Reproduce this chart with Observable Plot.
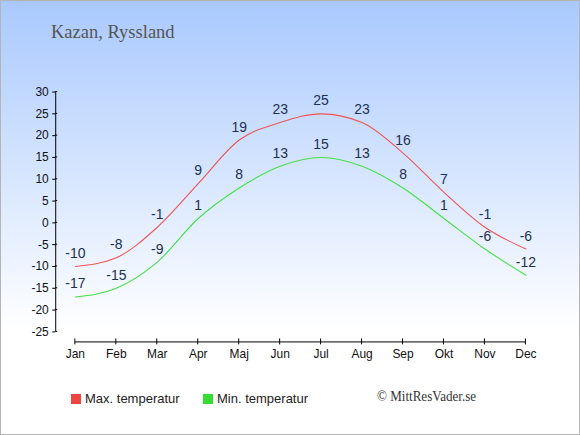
<!DOCTYPE html>
<html>
<head>
<meta charset="utf-8">
<script src="https://cdn.jsdelivr.net/npm/d3@7"></script>
<script src="https://cdn.jsdelivr.net/npm/@observablehq/plot@0.6"></script>
<style>
  html, body { margin: 0; padding: 0; background: #fff; }
  #wrap {
    position: relative; width: 580px; height: 435px; box-sizing: border-box;
    border: 1px solid #b4b4b4; overflow: hidden;
    background: linear-gradient(to bottom, #a9c9fe 0px, #ffffff 330px, #ffffff 435px);
    font-family: "Liberation Sans", Arial, sans-serif;
  }
  #title {
    position: absolute; left: 50px; top: 21px; font-family: "Liberation Serif", serif;
    font-size: 18.5px; color: #555;
  }
  #chart { position: absolute; left: -1px; top: -1px; }
  #legend { position: absolute; left: 0; top: 388px; width: 580px; height: 20px; font-size: 13px; color: #222; }
  .item { position: absolute; top: 0; white-space: nowrap; }
  .sw { position: absolute; top: 5px; width: 10px; height: 10px; }
  #copy { position: absolute; left: 376px; top: 387px; font-family: "Liberation Serif", serif; font-size: 14.5px; color: #333;
    transform: scaleX(0.9); transform-origin: left center; white-space: nowrap; }
</style>
</head>
<body>
<div id="wrap">
  <div id="title">Kazan, Ryssland</div>
  <div id="chart"></div>
  <div id="legend"></div>
  <div id="copy">© MittResVader.se</div>
</div>
<script>
const months = ["Jan","Feb","Mar","Apr","Maj","Jun","Jul","Aug","Sep","Okt","Nov","Dec"];
const maxTemp = [-10, -8, -1, 9, 19, 23, 25, 23, 16, 7, -1, -6];
const minTemp = [-17, -15, -9, 1, 8, 13, 15, 13, 8, 1, -6, -12];
const yTicks = [-25, -20, -15, -10, -5, 0, 5, 10, 15, 20, 25, 30];
const seriesNames = ["Max. temperatur", "Min. temperatur"];
const seriesColors = ["#f05454", "#44e044"];
const swatchColors = ["#ee4444", "#33dd33"];

const xDomain = [-0.48, months.length - 1];
const yDomain = [-27.3, 30];

const maxData = months.map((m, i) => ({i, v: maxTemp[i]}));
const minData = months.map((m, i) => ({i, v: minTemp[i]}));

const chart = Plot.plot({
  width: 580,
  height: 370,
  marginLeft: 55.3,
  marginRight: 53.7,
  marginTop: 91.7,
  marginBottom: 28,
  style: {background: "transparent", fontFamily: "Liberation Sans, Arial, sans-serif", fontSize: "12px", color: "#111"},
  x: {domain: xDomain},
  y: {domain: yDomain},
  marks: [
    Plot.ruleX([xDomain[0]], {y1: yTicks[0], y2: yTicks[yTicks.length - 1], stroke: "#000", strokeWidth: 1}),
    Plot.ruleY([yDomain[0]], {x1: 0, x2: months.length - 1, stroke: "#000", strokeWidth: 1}),
    Plot.axisY({ticks: yTicks, tickSize: 3, tickPadding: 4, tickFormat: d => String(d), label: null, stroke: "#000", fill: "#111", fontSize: 12}),
    Plot.axisX({ticks: months.map((m, i) => i), tickFormat: i => months[i], tickSize: 0, tickPadding: 8, label: null, fill: "#111", fontSize: 12}),
    Plot.line(maxData, {x: "i", y: "v", stroke: seriesColors[0], strokeWidth: 1.1, curve: "monotone-x"}),
    Plot.line(minData, {x: "i", y: "v", stroke: seriesColors[1], strokeWidth: 1.1, curve: "monotone-x"}),
    Plot.text(maxData, {x: "i", y: "v", text: d => String(d.v), dy: -13, fill: "#1e3050", fontSize: 14}),
    Plot.text(minData, {x: "i", y: "v", text: d => String(d.v), dy: -13, fill: "#1e3050", fontSize: 14})
  ]
});
document.getElementById("chart").appendChild(chart);

// tick marks crossing the axis lines, positioned via the plot's scales
const xs = chart.scale("x"), ys = chart.scale("y");
const svg = d3.select(chart);
const y0 = ys.apply(yDomain[0]);
svg.append("g").selectAll("line").data(months.map((m, i) => i)).join("line")
  .attr("x1", i => xs.apply(i)).attr("x2", i => xs.apply(i))
  .attr("y1", y0 - 3).attr("y2", y0 + 3).attr("stroke", "#000");
const xLeft = xs.apply(xDomain[0]);
svg.append("g").selectAll("line").data(yTicks).join("line")
  .attr("x1", xLeft).attr("x2", xLeft + 2)
  .attr("y1", d => ys.apply(d)).attr("y2", d => ys.apply(d)).attr("stroke", "#000");

// legend
const legend = document.getElementById("legend");
const lx = [70, 202];
seriesNames.forEach((name, k) => {
  const it = document.createElement("div");
  it.className = "item";
  it.style.left = lx[k] + "px";
  it.innerHTML = `<span class="sw" style="left:0;background:${swatchColors[k]}"></span><span style="position:absolute;left:14px;top:0;line-height:20px">${name}</span>`;
  legend.appendChild(it);
});
</script>
</body>
</html>
